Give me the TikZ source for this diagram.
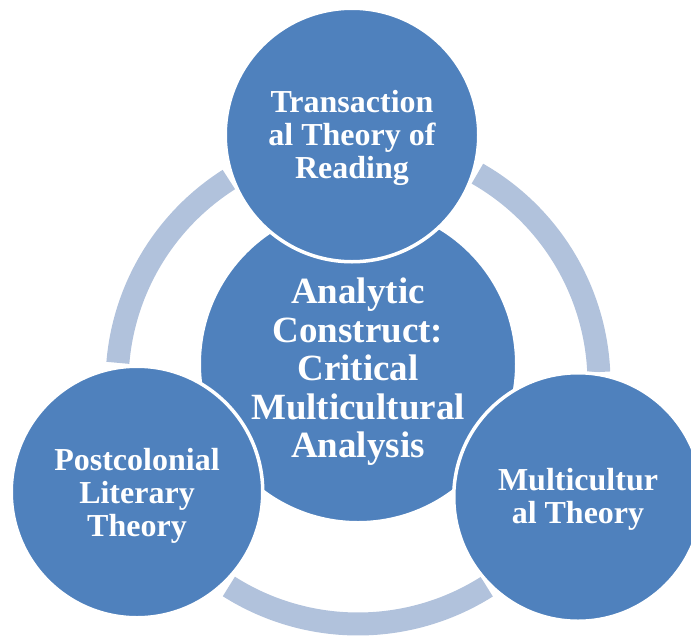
\documentclass[tikz,border=0pt]{standalone}
\usepackage{fontspec}
\setmainfont{Liberation Serif}
\definecolor{discblue}{HTML}{4F81BD}
\definecolor{ringblue}{HTML}{B1C2DC}
\begin{document}
\begin{tikzpicture}[x=1pt,y=-1pt,
  bubble/.style={circle, fill=discblue, draw=white, line width=3.5pt, inner sep=0pt},
  label32/.style={align=center, text=white, inner sep=0pt,
    font=\bfseries\fontsize{32}{33}\selectfont},
  label36/.style={align=center, text=white, inner sep=0pt,
    font=\bfseries\fontsize{37}{38.5}\selectfont},
  ringarc/.style={draw=ringblue, line width=23pt}]
\useasboundingbox (0,0) rectangle (691,635);

% cycle ring behind the discs
\coordinate (C) at (358,383);
\draw[ringarc] (C) ++(184.8:241) arc[start angle=184.8, end angle=237.6, radius=241];
\draw[ringarc] (C) ++(-60.3:241) arc[start angle=-60.3, end angle=-2.6, radius=241];
\draw[ringarc] (C) ++(57.7:241) arc[start angle=57.7, end angle=122.4, radius=241];

% central disc, then the three outer discs on top of it
\node[bubble, minimum size=317.5pt] (hub) at (358,364) {};
\node[bubble, minimum size=253.5pt] (top) at (352,135) {};
\node[bubble, minimum size=251.5pt] (left) at (137,492) {};
\node[bubble, minimum size=248.5pt] (right) at (578,497) {};

% texts
\node[label36] (hubtext) at (358,372) {Analytic\\Construct:\\Critical\\Multicultural\\Analysis};
\node[label32] (toptext) at (352,138) {Transaction\\al Theory of\\Reading};
\node[label32] (lefttext) at (137,496) {Postcolonial\\Literary\\Theory};
\node[label32] (righttext) at (578,499) {Multicultur\\al Theory};
\end{tikzpicture}
\end{document}
